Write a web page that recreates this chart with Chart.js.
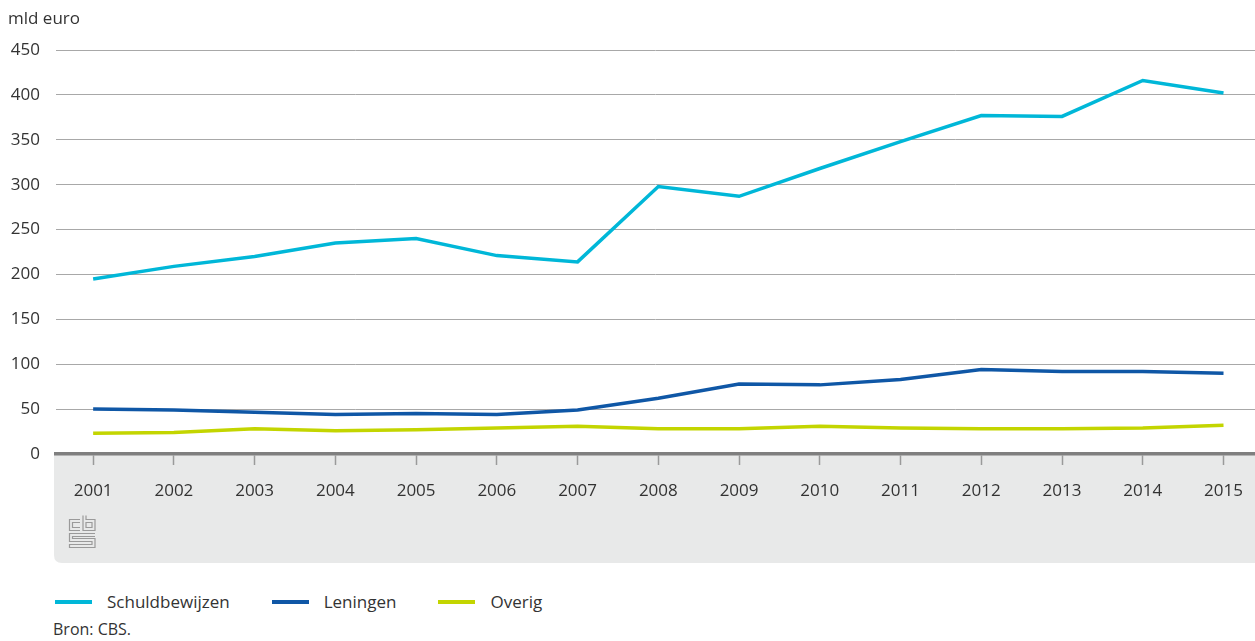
<!DOCTYPE html>
<html>
<head>
<meta charset="utf-8">
<script src="https://cdn.jsdelivr.net/npm/chart.js@4.4.1/dist/chart.umd.min.js"></script>
<style>
  body { margin: 0; background: #fff; font-family: "Open Sans", sans-serif; color: #333; }
  #wrap { position: relative; width: 1255px; height: 641px; }
  #box { position: absolute; left: 0; top: 0; width: 1255px; height: 575px; }
  #legend { position: absolute; left: 55px; top: 591px; display: flex; font-size: 17px; line-height: 22px; }
  #legend .item { display: flex; align-items: center; margin-right: 42px; }
  #legend .swatch { width: 37px; height: 4px; margin-right: 15px; }
  #bron { position: absolute; left: 53px; top: 618px; font-size: 16px; line-height: 22px; }
</style>
</head>
<body>
<div id="wrap">
  <div id="box"><canvas id="chart"></canvas></div>
  <div id="legend"></div>
  <div id="bron">Bron: CBS.</div>
</div>
<script>
// jaren en waarden (mld euro)
const years = [2001, 2002, 2003, 2004, 2005, 2006, 2007, 2008, 2009, 2010, 2011, 2012, 2013, 2014, 2015];
const schuldbewijzen = [195, 209, 220, 235, 240, 221, 214, 298, 287, 318, 348, 377, 376, 416, 402];
const leningen = [50, 49, 46.5, 44, 45, 44, 49, 62, 78, 77, 83, 94, 92, 92, 90];
const overig = [23, 24, 28, 26, 27, 29, 31, 28, 28, 31, 29, 28, 28, 29, 32];
const yTicks = [0, 50, 100, 150, 200, 250, 300, 350, 400, 450];

const series = [
  { label: 'Schuldbewijzen', values: schuldbewijzen, color: '#00b7d8' },
  { label: 'Leningen', values: leningen, color: '#0f57a6' },
  { label: 'Overig', values: overig, color: '#c3d500' }
];

// grijze band onder de x-as plus logo
const bandPlugin = {
  id: 'band',
  beforeDraw(chart) {
    const { ctx, chartArea } = chart;
    const left = chartArea.left - 2, top = chartArea.bottom - 2;
    const right = chart.width, bottom = 563, r = 8;
    ctx.save();
    ctx.fillStyle = '#e8e9e9';
    ctx.beginPath();
    ctx.moveTo(left, top);
    ctx.lineTo(right, top);
    ctx.lineTo(right, bottom);
    ctx.lineTo(left + r, bottom);
    ctx.quadraticCurveTo(left, bottom, left, bottom - r);
    ctx.closePath();
    ctx.fill();

    // cbs logo, grof nagetekend
    ctx.strokeStyle = '#9a9a9a';
    ctx.lineWidth = 1.2;
    const x0 = 69.5, y0 = 515.5;
    ctx.beginPath();
    // c
    ctx.moveTo(80, y0 + 4); ctx.lineTo(x0, y0 + 4); ctx.lineTo(x0, y0 + 15); ctx.lineTo(80, y0 + 15);
    ctx.moveTo(80, y0 + 7); ctx.lineTo(x0 + 3, y0 + 7); ctx.lineTo(x0 + 3, y0 + 12); ctx.lineTo(80, y0 + 12);
    // b
    ctx.moveTo(83, y0); ctx.lineTo(83, y0 + 15); ctx.lineTo(95, y0 + 15); ctx.lineTo(95, y0 + 4); ctx.lineTo(86, y0 + 4); ctx.lineTo(86, y0);
    ctx.rect(86, y0 + 7, 6, 5);
    // S
    ctx.moveTo(95, y0 + 18); ctx.lineTo(x0, y0 + 18); ctx.lineTo(x0, y0 + 26); ctx.lineTo(92, y0 + 26);
    ctx.lineTo(92, y0 + 29); ctx.lineTo(x0, y0 + 29); ctx.lineTo(x0, y0 + 32); ctx.lineTo(95, y0 + 32);
    ctx.lineTo(95, y0 + 23); ctx.lineTo(x0 + 3, y0 + 23); ctx.lineTo(x0 + 3, y0 + 21); ctx.lineTo(95, y0 + 21);
    ctx.stroke();
    ctx.restore();
  }
};

const ctx = document.getElementById('chart').getContext('2d');
new Chart(ctx, {
  type: 'line',
  data: {
    datasets: series.map(s => ({
      label: s.label,
      data: years.map((y, i) => ({ x: y, y: s.values[i] })),
      borderColor: s.color,
      backgroundColor: s.color,
      borderWidth: 3.5,
      pointRadius: 0,
      tension: 0
    }))
  },
  options: {
    responsive: true,
    maintainAspectRatio: false,
    animation: false,
    layout: { padding: { left: 8, right: 0, top: 0, bottom: 12 } },
    plugins: {
      legend: { display: false },
      tooltip: { enabled: false },
      title: {
        display: true,
        text: 'mld euro',
        align: 'start',
        color: '#333',
        font: { family: 'Open Sans', size: 17, weight: 'normal' },
        padding: { top: 9, bottom: 20.6 }
      }
    },
    scales: {
      x: {
        type: 'linear',
        min: 2000.54,
        max: 2015.39,
        afterBuildTicks(axis) { axis.ticks = years.map(v => ({ value: v })); },
        afterFit(axis) {
          axis.height = 109;
          axis.paddingLeft = 0;
          axis.paddingRight = 0;
        },
        grid: { drawOnChartArea: false, drawTicks: true, tickLength: 11, tickColor: '#9a9a9a', tickWidth: 1.5 },
        border: { display: true, color: '#7f7f7f', width: 3.5 },
        ticks: {
          padding: 16,
          color: '#333',
          font: { family: 'Open Sans', size: 17 },
          callback: v => String(v),
          maxRotation: 0
        }
      },
      y: {
        min: 0,
        max: 450,
        afterBuildTicks(axis) { axis.ticks = yTicks.map(v => ({ value: v })); },
        afterFit(axis) { axis.width = 48; },
        grid: { color: '#a8a8a8', lineWidth: 1, drawTicks: false },
        border: { display: false },
        ticks: {
          padding: 16,
          color: '#333',
          font: { family: 'Open Sans', size: 17 }
        }
      }
    }
  },
  plugins: [bandPlugin]
});

// legenda
const legend = document.getElementById('legend');
series.forEach(s => {
  const item = document.createElement('div');
  item.className = 'item';
  const sw = document.createElement('span');
  sw.className = 'swatch';
  sw.style.background = s.color;
  const txt = document.createElement('span');
  txt.textContent = s.label;
  item.appendChild(sw);
  item.appendChild(txt);
  legend.appendChild(item);
});
</script>
</body>
</html>
